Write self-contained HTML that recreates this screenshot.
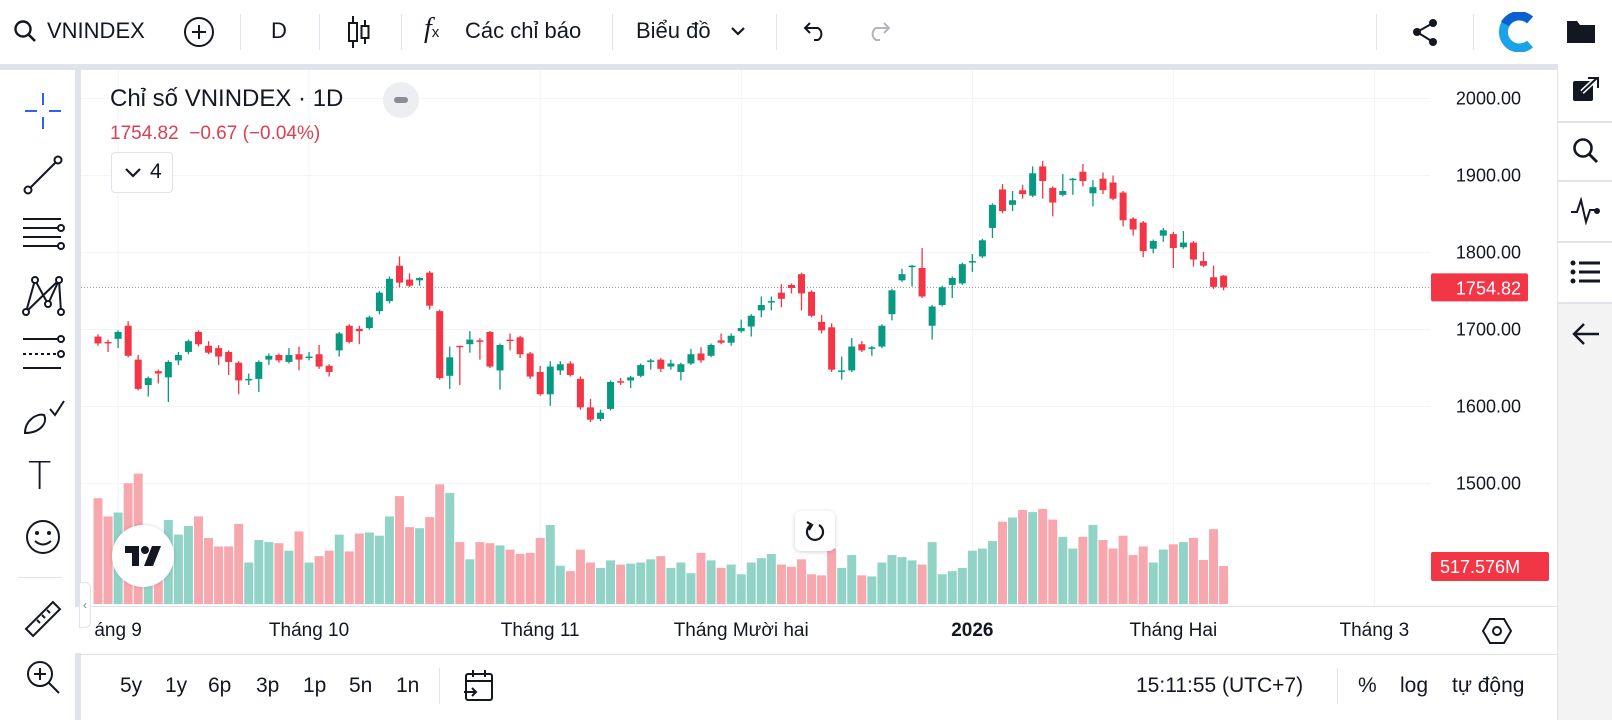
<!DOCTYPE html>
<html><head><meta charset="utf-8">
<style>
*{box-sizing:border-box;margin:0;padding:0}
body{width:1612px;height:720px;overflow:hidden;background:#fff;font-family:"Liberation Sans","DejaVu Sans",sans-serif;color:#131722;position:relative}
.abs{position:absolute}
.tb-text{position:absolute;font-size:22px;top:18px;white-space:nowrap}
.sep{position:absolute;width:1px;background:#e0e3eb}
.bt{position:absolute;font-size:21px;top:674px}
</style></head><body>
<div class="abs" style="left:0;top:0;width:1612px;height:64px;background:#fff"></div>
<svg class="abs" style="left:13px;top:19px" width="24" height="24" viewBox="0 0 24 24"><circle cx="10" cy="10" r="7.5" fill="none" stroke="#131722" stroke-width="2.4"/><line x1="15.5" y1="15.5" x2="22" y2="22" stroke="#131722" stroke-width="2.6"/></svg>
<div class="tb-text" style="left:47px">VNINDEX</div>
<svg class="abs" style="left:183px;top:16px" width="32" height="32"><circle cx="16" cy="16" r="14" fill="none" stroke="#131722" stroke-width="2"/><line x1="16" y1="9" x2="16" y2="23" stroke="#131722" stroke-width="2"/><line x1="9" y1="16" x2="23" y2="16" stroke="#131722" stroke-width="2"/></svg>
<div class="sep" style="left:240px;top:14px;height:36px"></div>
<div class="tb-text" style="left:271px">D</div>
<div class="sep" style="left:319px;top:14px;height:36px"></div>
<svg class="abs" style="left:346px;top:14px" width="26" height="36"><line x1="7" y1="2" x2="7" y2="34" stroke="#131722" stroke-width="2"/><rect x="3" y="9" width="8" height="18" fill="#fff" stroke="#131722" stroke-width="2"/><line x1="19" y1="6" x2="19" y2="30" stroke="#131722" stroke-width="2"/><rect x="15.5" y="12" width="7" height="12" fill="#fff" stroke="#131722" stroke-width="2"/></svg>
<div class="sep" style="left:401px;top:14px;height:36px"></div>
<div class="tb-text" style="left:424px;top:13px;font-size:28px;font-style:italic;font-family:'Liberation Serif',serif">f<span style="font-size:15px;font-style:normal;font-family:'Liberation Sans',sans-serif">x</span></div>
<div class="tb-text" style="left:465px">Các chỉ báo</div>
<div class="sep" style="left:612px;top:14px;height:36px"></div>
<div class="tb-text" style="left:636px">Biểu đồ</div>
<svg class="abs" style="left:730px;top:25px" width="16" height="12"><polyline points="2,3 8,9 14,3" fill="none" stroke="#131722" stroke-width="2.2"/></svg>
<div class="sep" style="left:776px;top:14px;height:36px"></div>
<svg class="abs" style="left:800px;top:20px" width="28" height="22"><path d="M6 8 H18 A7 7 0 0 1 18 20 H14" fill="none" stroke="#131722" stroke-width="2"/><polyline points="10,3 5,8 10,13" fill="none" stroke="#131722" stroke-width="2"/></svg>
<svg class="abs" style="left:866px;top:20px" width="28" height="22"><path d="M22 8 H10 A7 7 0 0 0 10 20 H14" fill="none" stroke="#b2b5be" stroke-width="2"/><polyline points="18,3 23,8 18,13" fill="none" stroke="#b2b5be" stroke-width="2"/></svg>
<div class="sep" style="left:1376px;top:14px;height:36px"></div>
<svg class="abs" style="left:1410px;top:17px" width="30" height="30"><circle cx="23" cy="6" r="4" fill="#131722"/><circle cx="7" cy="15" r="4" fill="#131722"/><circle cx="23" cy="25" r="4" fill="#131722"/><line x1="23" y1="6" x2="7" y2="15" stroke="#131722" stroke-width="2"/><line x1="7" y1="15" x2="23" y2="25" stroke="#131722" stroke-width="2"/></svg>
<div class="sep" style="left:1473px;top:14px;height:36px"></div>
<svg class="abs" style="left:1497px;top:12px" width="38" height="40"><path d="M33 8 A16 16 0 1 0 33 32" fill="none" stroke="#1aa3e8" stroke-width="9"/><path d="M33 8 A16 16 0 0 0 8 12" fill="none" stroke="#0b5fd0" stroke-width="9"/></svg>
<svg class="abs" style="left:1566px;top:18px" width="30" height="26"><path d="M1 3 H11 L14 7 H29 V25 H1 Z" fill="#131722"/></svg>

<div class="abs" style="left:0;top:64px;width:1557px;height:6px;background:#e0e3eb"></div>
<div class="abs" style="left:75px;top:70px;width:6px;height:650px;background:#e0e3eb"></div>

<div id="lefttb" class="abs" style="left:0;top:70px;width:75px;height:650px;background:#fff">
<svg class="abs" style="left:23px;top:21px" width="40" height="40"><g stroke="#2962ff" stroke-width="2"><line x1="2" y1="20" x2="14" y2="20"/><line x1="26" y1="20" x2="38" y2="20"/><line x1="20" y1="2" x2="20" y2="14"/><line x1="20" y1="26" x2="20" y2="38"/></g></svg>
<svg class="abs" style="left:23px;top:85px" width="40" height="40"><g stroke="#131722" stroke-width="2" fill="#fff"><line x1="5" y1="35" x2="35" y2="5"/><circle cx="5" cy="35" r="3.5"/><circle cx="35" cy="5" r="3.5"/></g></svg>
<svg class="abs" style="left:21px;top:144px" width="46" height="40"><g stroke="#131722" stroke-width="2" fill="#fff"><line x1="2" y1="5" x2="40" y2="5"/><line x1="2" y1="14" x2="40" y2="14"/><line x1="2" y1="23" x2="40" y2="23"/><line x1="2" y1="32" x2="40" y2="32"/><circle cx="40" cy="14" r="3"/><circle cx="40" cy="32" r="3"/></g></svg>
<svg class="abs" style="left:21px;top:204px" width="44" height="44"><g stroke="#131722" stroke-width="2" fill="#fff"><polyline points="5,38 14,6 27,30 38,6 40,38"/><line x1="5" y1="38" x2="38" y2="6"/><circle cx="5" cy="38" r="3"/><circle cx="14" cy="6" r="3"/><circle cx="27" cy="30" r="3"/><circle cx="38" cy="6" r="3"/><circle cx="40" cy="38" r="3"/></g></svg>
<svg class="abs" style="left:21px;top:264px" width="46" height="40"><g stroke="#131722" stroke-width="2" fill="#fff"><line x1="2" y1="5" x2="40" y2="5"/><line x1="2" y1="34" x2="40" y2="34"/><line x1="2" y1="20" x2="40" y2="20" stroke-dasharray="3 3"/><circle cx="40" cy="5" r="3"/><circle cx="40" cy="20" r="3"/></g></svg>
<svg class="abs" style="left:22px;top:327px" width="44" height="40"><g stroke="#131722" stroke-width="2" fill="none"><path d="M3 36 C3 24 14 16 22 18 C26 26 18 36 3 36 Z"/><polyline points="28,12 33,18 42,4"/></g></svg>
<div class="abs" style="left:28px;top:384px;font-size:38px;font-family:'DejaVu Sans',sans-serif;font-weight:200">T</div>
<svg class="abs" style="left:24px;top:448px" width="38" height="38"><circle cx="19" cy="19" r="16" fill="none" stroke="#131722" stroke-width="2"/><circle cx="13" cy="15" r="2" fill="#131722"/><circle cx="25" cy="15" r="2" fill="#131722"/><path d="M11 23 Q19 30 27 23" fill="none" stroke="#131722" stroke-width="2"/></svg>
<div class="abs" style="left:18px;top:507px;width:44px;height:1px;background:#e0e3eb"></div>
<svg class="abs" style="left:24px;top:530px" width="38" height="38"><g stroke="#131722" stroke-width="2" fill="none"><rect x="0" y="14" width="38" height="10" transform="rotate(-45 19 19)"/><line x1="13" y1="20" x2="16" y2="23"/><line x1="18" y1="15" x2="21" y2="18"/><line x1="23" y1="10" x2="26" y2="13"/></g></svg>
<svg class="abs" style="left:24px;top:588px" width="38" height="38"><g stroke="#131722" stroke-width="2" fill="none"><circle cx="16" cy="16" r="12"/><line x1="25" y1="25" x2="35" y2="35"/><line x1="16" y1="10" x2="16" y2="22"/><line x1="10" y1="16" x2="22" y2="16"/></g></svg>
</div>

<div class="abs" style="left:1557px;top:64px;width:55px;height:656px;background:#f3f3f3;border-left:1px solid #e0e3eb"></div>
<div class="abs" style="left:1557px;top:64px;width:55px;height:240px;background:#fff;border-left:1px solid #e0e3eb"></div>
<div class="abs" style="left:1557px;top:121px;width:55px;height:2px;background:#e0e3eb"></div>
<div class="abs" style="left:1557px;top:180px;width:55px;height:2px;background:#e0e3eb"></div>
<div class="abs" style="left:1557px;top:241px;width:55px;height:2px;background:#e0e3eb"></div>
<div class="abs" style="left:1557px;top:302px;width:55px;height:2px;background:#e0e3eb"></div>
<svg class="abs" style="left:1572px;top:76px" width="28" height="28"><rect x="1" y="5" width="20" height="20" rx="2" fill="#131722"/><line x1="10" y1="16" x2="25" y2="2" stroke="#fff" stroke-width="5"/><line x1="10" y1="16" x2="25" y2="2" stroke="#131722" stroke-width="2"/><polyline points="16,2 26,2 26,12" fill="none" stroke="#131722" stroke-width="2"/></svg>
<svg class="abs" style="left:1572px;top:137px" width="28" height="28"><circle cx="11" cy="11" r="8.5" fill="none" stroke="#131722" stroke-width="2.6"/><line x1="17" y1="17" x2="25" y2="25" stroke="#131722" stroke-width="2.8"/></svg>
<svg class="abs" style="left:1570px;top:197px" width="32" height="28"><polyline points="1,15 7,15 11,3 16,25 20,13 26,13" fill="none" stroke="#131722" stroke-width="2"/><circle cx="27" cy="14" r="3" fill="#131722"/></svg>
<svg class="abs" style="left:1570px;top:259px" width="32" height="26"><g fill="#131722"><circle cx="3" cy="4" r="2.5"/><circle cx="3" cy="13" r="2.5"/><circle cx="3" cy="22" r="2.5"/><rect x="9" y="2.5" width="21" height="3"/><rect x="9" y="11.5" width="21" height="3"/><rect x="9" y="20.5" width="21" height="3"/></g></svg>
<svg class="abs" style="left:1571px;top:321px" width="30" height="26"><line x1="3" y1="13" x2="28" y2="13" stroke="#131722" stroke-width="2.4"/><polyline points="13,3 3,13 13,23" fill="none" stroke="#131722" stroke-width="2.4"/></svg>

<svg id="chart" class="abs" style="left:0;top:0" width="1612" height="720"></svg>

<div class="abs" style="left:110px;top:85px;font-size:24px;white-space:nowrap">Chỉ số VNINDEX · 1D</div>
<div class="abs" style="left:383px;top:82px;width:36px;height:36px;border-radius:18px;background:#eceef2"><div style="position:absolute;left:11px;top:15px;width:14px;height:6px;border-radius:3px;background:#8a8d96"></div></div>
<div class="abs" style="left:110px;top:123px;font-size:19px;color:#dc3f52;white-space:nowrap">1754.82&nbsp; −0.67 (−0.04%)</div>
<div class="abs" style="left:111px;top:152px;width:62px;height:41px;border:1px solid #e0e3eb;border-radius:4px;background:#fff"><svg class="abs" style="left:12px;top:14px" width="18" height="12"><polyline points="2,2 9,9 16,2" fill="none" stroke="#131722" stroke-width="2.2"/></svg><div class="abs" style="left:38px;top:7px;font-size:21px">4</div></div>

<div class="abs" style="left:112px;top:525px;width:62px;height:62px;border-radius:31px;background:#fff;box-shadow:0 0 4px rgba(0,0,0,0.15)"><svg class="abs" style="left:12px;top:20px" width="38" height="22"><path d="M1 1 H15 V21 H8 V8 H1 Z" fill="#131722"/><circle cx="21" cy="5" r="4" fill="#131722"/><path d="M28 1 H37 L29 21 H20 Z" fill="#131722"/></svg></div>
<div class="abs" style="left:795px;top:511px;width:40px;height:40px;border-radius:6px;background:#fff;box-shadow:0 1px 5px rgba(0,0,0,0.18)"><svg class="abs" style="left:9px;top:9px" width="22" height="22"><path d="M7 5 A8 8 0 1 0 15 5" fill="none" stroke="#131722" stroke-width="2.2"/><polyline points="3,2 8,5 5,10" fill="none" stroke="#131722" stroke-width="2.2"/></svg></div>
<div class="abs" style="left:79px;top:582px;width:12px;height:46px;border-radius:0 6px 6px 0;background:#fff;border:1px solid #e0e3eb;font-size:12px;color:#787b86;text-align:center;line-height:44px">‹</div>

<div class="abs" style="left:81px;top:654px;width:1476px;height:66px;background:#fff;border-top:1px solid #e0e3eb"></div>
<div class="bt" style="left:120px">5y</div>
<div class="bt" style="left:165px">1y</div>
<div class="bt" style="left:208px">6p</div>
<div class="bt" style="left:256px">3p</div>
<div class="bt" style="left:303px">1p</div>
<div class="bt" style="left:349px">5n</div>
<div class="bt" style="left:396px">1n</div>
<div class="sep" style="left:439px;top:668px;height:36px"></div>
<svg class="abs" style="left:463px;top:669px" width="32" height="34"><g stroke="#131722" stroke-width="2" fill="none"><rect x="3" y="5" width="26" height="26" rx="2"/><line x1="3" y1="12" x2="29" y2="12"/><line x1="10" y1="1" x2="10" y2="8"/><line x1="22" y1="1" x2="22" y2="8"/><line x1="1" y1="23" x2="13" y2="23"/><polyline points="9,19 13,23 9,27"/></g></svg>
<div class="bt" style="left:1136px">15:11:55 (UTC+7)</div>
<div class="sep" style="left:1337px;top:668px;height:36px"></div>
<div class="bt" style="left:1358px">%</div>
<div class="bt" style="left:1400px">log</div>
<div class="bt" style="left:1452px">tự động</div>

<script>
const opens  = [1691,1684,1688,1705,1661,1628,1646,1638,1660,1671,1697,1679,1676,1671,1657,1635,1636,1661,1667,1658,1668,1664,1668,1653,1673,1705,1701,1702,1724,1737,1783,1765,1764,1774,1724,1640,1679,1681,1686,1697,1647,1687,1690,1669,1645,1616,1647,1656,1636,1599,1584,1597,1633,1634,1640,1658,1661,1652,1645,1656,1669,1666,1686,1683,1698,1704,1725,1736,1748,1758,1772,1749,1710,1703,1646,1647,1681,1676,1678,1720,1764,1783,1780,1705,1732,1758,1760,1789,1795,1832,1882,1862,1881,1874,1912,1884,1875,1895,1905,1877,1896,1891,1878,1844,1839,1805,1822,1824,1807,1813,1789,1768,1770];
const highs  = [1694,1687,1699,1711,1667,1639,1648,1660,1671,1687,1699,1685,1680,1673,1659,1643,1660,1669,1669,1676,1678,1671,1680,1655,1697,1707,1705,1718,1750,1769,1795,1773,1768,1776,1726,1678,1679,1698,1689,1698,1682,1695,1692,1671,1653,1659,1659,1659,1639,1610,1596,1634,1637,1640,1656,1662,1663,1661,1657,1675,1677,1682,1695,1695,1713,1720,1743,1743,1759,1760,1774,1751,1719,1708,1665,1689,1685,1679,1707,1753,1779,1784,1806,1732,1757,1769,1787,1798,1818,1864,1889,1880,1888,1912,1919,1886,1902,1897,1915,1894,1904,1900,1880,1846,1841,1817,1832,1827,1828,1815,1801,1783,1771];
const lows   = [1679,1671,1676,1664,1621,1613,1630,1606,1654,1668,1678,1668,1654,1641,1616,1628,1619,1654,1657,1656,1647,1660,1649,1639,1665,1682,1681,1700,1720,1734,1755,1755,1757,1726,1635,1623,1628,1670,1661,1650,1622,1673,1663,1636,1614,1601,1641,1639,1596,1580,1581,1595,1628,1624,1638,1648,1645,1648,1634,1654,1657,1664,1681,1679,1696,1691,1716,1725,1729,1747,1725,1716,1695,1645,1635,1645,1671,1666,1676,1712,1762,1756,1741,1687,1730,1741,1758,1775,1793,1819,1851,1854,1870,1872,1870,1847,1873,1875,1886,1860,1876,1868,1834,1822,1794,1799,1814,1780,1805,1782,1781,1753,1751];
const closes = [1682,1683,1697,1666,1623,1637,1643,1658,1667,1685,1681,1670,1665,1658,1634,1636,1658,1666,1660,1667,1661,1665,1652,1645,1695,1684,1698,1716,1748,1766,1761,1757,1767,1731,1637,1664,1678,1687,1685,1652,1680,1686,1668,1639,1616,1652,1655,1641,1599,1583,1592,1632,1632,1638,1654,1660,1649,1656,1655,1668,1660,1680,1683,1692,1702,1718,1732,1737,1740,1754,1747,1718,1699,1648,1647,1678,1673,1677,1705,1751,1772,1783,1743,1730,1755,1767,1785,1789,1816,1862,1854,1868,1876,1903,1893,1865,1880,1896,1893,1885,1881,1870,1842,1830,1802,1815,1829,1806,1813,1791,1783,1755.49,1754.82];
const volumes= [1441,1193,1246,1645,1776,881,857,1144,945,1062,1193,900,784,784,1091,565,872,843,828,726,989,565,652,726,945,716,959,974,930,1193,1470,1047,1032,1184,1630,1513,843,609,843,828,798,741,682,696,900,1076,522,448,741,565,492,594,537,550,565,609,652,492,565,420,696,594,492,537,405,565,624,682,537,507,609,405,390,755,492,667,390,376,565,667,639,594,537,843,405,448,492,726,755,857,1120,1178,1280,1252,1295,1150,915,755,915,1076,872,755,930,667,784,565,741,813,843,900,600,1020,517.576];
const priceTicks = [2000,1900,1800,1700,1600,1500];
const timeLabels = ['áng 9','Tháng 10','Tháng 11','Tháng Mười hai','2026','Tháng Hai','Tháng 3'];
const timeTickIndex = [2,21,44,64,87,107,127];
const lastPriceLabel = '1754.82';
const lastVolumeLabel = '517.576M';

const NS='http://www.w3.org/2000/svg';
const svg=document.getElementById('chart');
const X0=98, STEP=10.05, PLEFT=81, PRIGHT=1430;
function xScale(i){return X0+i*STEP;}
function yScale(p){return 98.6+(2000-p)*0.77;}
function yVol(v){return 604-v*38/517.576;}
function mk(tag,attrs){const e=document.createElementNS(NS,tag);for(const k in attrs)e.setAttribute(k,attrs[k]);svg.appendChild(e);return e;}

priceTicks.forEach(function(p){
  const g=mk('line',{x1:PLEFT,x2:PRIGHT,y1:yScale(p),y2:yScale(p),stroke:'#f0f3fa','stroke-width':1});
  
  
});
timeTickIndex.forEach(function(i){
  if(xScale(i)>PRIGHT)return;
  const g=mk('line',{x1:xScale(i),x2:xScale(i),y1:70,y2:606,stroke:'#f0f3fa','stroke-width':1});
  
  
});
const tb=mk('line',{x1:PLEFT,x2:1557,y1:606.5,y2:606.5,stroke:'#e0e3eb'});



volumes.forEach(function(v,i){
  const up=closes[i]>=opens[i];
  const r=mk('rect',{x:xScale(i)-4.5,y:yVol(v),width:9,height:604-yVol(v),fill:up?'#92d3c7':'#f7a8ae'});
  
  
});

const pl=mk('line',{x1:PLEFT,x2:PRIGHT,y1:yScale(closes[closes.length-1]),y2:yScale(closes[closes.length-1]),stroke:'#9598a1','stroke-width':1,'stroke-dasharray':'1 2'});



opens.forEach(function(o,i){
  const c=closes[i], up=c>=o, col=up?'#089981':'#f23645';
  const x=xScale(i);
  const w=mk('line',{x1:x,x2:x,y1:yScale(highs[i]),y2:yScale(lows[i]),stroke:col,'stroke-width':1.3});
  
  
  const top=yScale(Math.max(o,c)), bot=yScale(Math.min(o,c));
  const b=mk('rect',{x:x-3.5,y:top,width:7,height:Math.max(1.5,bot-top),fill:col});
  
  
});

priceTicks.forEach(function(p){
  const t=mk('text',{x:1521,y:yScale(p)+6,'text-anchor':'end','font-size':18,fill:'#131722','font-family':'Liberation Sans, sans-serif'});
  t.textContent=p.toFixed(2);
  
  
});
const ly=yScale(closes[closes.length-1]);
const lb=mk('rect',{x:1431,y:ly-14,width:97,height:28,rx:2,fill:'#f23645'});


const lt=mk('text',{x:1521,y:ly+7,'text-anchor':'end','font-size':18,fill:'#fff','font-family':'Liberation Sans, sans-serif'});
lt.textContent=lastPriceLabel;


const vy=yVol(volumes[volumes.length-1]);
const vb=mk('rect',{x:1431,y:vy-14,width:118,height:29,rx:2,fill:'#f23645'});


const vt=mk('text',{x:1440,y:vy+7,'font-size':18,fill:'#fff','font-family':'Liberation Sans, sans-serif'});
vt.textContent=lastVolumeLabel;



timeLabels.forEach(function(s,k){
  const t=mk('text',{x:xScale(timeTickIndex[k]),y:636,'text-anchor':'middle','font-size':19,fill:'#131722','font-family':'Liberation Sans, sans-serif'});
  if(s==='2026')t.setAttribute('font-weight','bold');
  t.textContent=s;
  
  
});
const m=mk('rect',{x:75,y:607,width:14,height:46,fill:'#fff'});


const gear=mk('polygon',{points:'1483,631 1490,619 1504,619 1511,631 1504,643 1490,643',fill:'none',stroke:'#131722','stroke-width':2});


const gc=mk('circle',{cx:1497,cy:631,r:4,fill:'none',stroke:'#131722','stroke-width':2});


</script>
</body></html>
